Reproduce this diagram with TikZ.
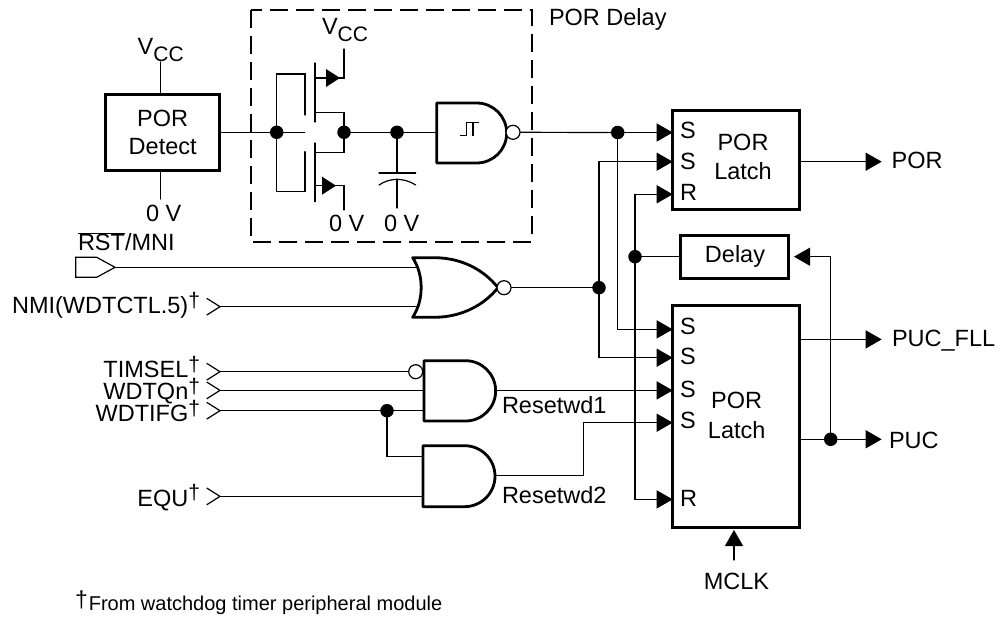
\documentclass[tikz,border=0pt]{standalone}
\usepackage{fontspec}
\setmainfont{Liberation Sans}
\usetikzlibrary{arrows.meta}
\newcommand{\fsz}{\fontsize{23.5}{24}\selectfont}
\newcommand{\dg}{\raisebox{6pt}{\fontsize{21}{21}\selectfont †}}
\newcommand{\ccsub}{\raisebox{-6.5pt}{\fontsize{21}{21}\selectfont CC}}
\tikzset{
  wire/.style={line width=1.2pt,line cap=round,line join=miter},
  arr/.style={wire,-{Triangle[length=16pt,width=18pt]}},
  gate/.style={line width=2.8pt,line join=round,fill=white},
  blockbox/.style={draw,line width=3pt,fill=white,inner sep=0pt,outer sep=0pt,align=center},
  lbl/.style={inner sep=0pt,outer sep=0pt,font=\fsz},
  lw/.style={lbl,anchor=base west},
  le/.style={lbl,anchor=base east},
  lc/.style={lbl,anchor=base},
  jdot/.style={circle,fill=black,inner sep=0pt,minimum size=13.5pt},
  bubble/.style={circle,draw,line width=1.2pt,fill=white,inner sep=0pt,minimum size=14pt},
  chev/.style={line width=1.2pt,line join=miter},
}
\newcommand{\chevron}[1]{\draw[chev] ([shift={(-13.3,-8.4)}]#1) -- (#1) -- ([shift={(-13.3,8.4)}]#1);}
\begin{document}
\begin{tikzpicture}[x=1pt,y=-1pt]
\useasboundingbox[fill=white] (0,0) rectangle (999,617);

% blocks
\node[blockbox,minimum width=113.3pt,minimum height=75.7pt] (detect) at (162.4,132.8) {};
\node[blockbox,minimum width=126.6pt,minimum height=99.3pt] (latchA) at (736,159.7) {};
\node[blockbox,minimum width=108.3pt,minimum height=43.3pt] (delay) at (734.8,256.7) {};
\node[blockbox,minimum width=126.6pt,minimum height=221.7pt] (latchB) at (736,416.8) {};

% dashed frame
\draw[line width=2pt,dash pattern=on 18pt off 8pt] (250.7,10) rectangle (531.7,241.7);

% coordinates
\coordinate (vccA) at (160.7,62);
\coordinate (gndA) at (160.7,199);
\coordinate (gateJ) at (276.7,132.3);
\coordinate (drainJ) at (344,132.3);
\coordinate (capJ) at (397,132.3);
\coordinate (nandIn) at (436.7,132.3);
\coordinate (nandBub) at (513,132.3);
\coordinate (aJ) at (617.7,132.5);
\coordinate (sA1) at (672.7,132.5);
\coordinate (sA2) at (672.7,161.7);
\coordinate (rA) at (672.7,194.3);
\coordinate (corS2) at (599,161.7);
\coordinate (corR) at (635,194.3);
\coordinate (norJ) at (599,287.7);
\coordinate (delJ) at (635,256.7);
\coordinate (sB1) at (672.7,329.4);
\coordinate (sB2) at (672.7,357.7);
\coordinate (sB3) at (672.7,390.4);
\coordinate (sB4) at (672.7,422.7);
\coordinate (rB) at (672.7,499.4);
\coordinate (corB1) at (617.7,329.4);
\coordinate (corB2) at (599,357.7);
\coordinate (corBR) at (635,499.4);
\coordinate (and2Out) at (495,475.3);
\coordinate (k1) at (583.3,475.3);
\coordinate (k2) at (583.3,422.7);
\coordinate (and1Out) at (495.7,390.4);
\coordinate (outPOR) at (881.7,161.7);
\coordinate (outFLL) at (881.7,339.4);
\coordinate (outPUC) at (881.7,439.3);
\coordinate (pucJ) at (830.7,439.3);
\coordinate (corD) at (830.7,256.7);
\coordinate (delIn) at (794,256.7);
\coordinate (mclk) at (734,560);
\coordinate (mclkTip) at (734,530);
\coordinate (padTip) at (115,267.3);
\coordinate (norA) at (417.5,267.3);
\coordinate (nmiTip) at (220,306.7);
\coordinate (norB) at (417.5,306.7);
\coordinate (timTip) at (220,371.7);
\coordinate (qTip) at (220,390.4);
\coordinate (ifgTip) at (220,410.7);
\coordinate (equTip) at (220,496.4);
\coordinate (timB) at (415.7,371.7);
\coordinate (a1b) at (424,390.4);
\coordinate (a1c) at (424,410.7);
\coordinate (ifgJ) at (387,410.7);
\coordinate (cor3) at (387,456.7);
\coordinate (a2a) at (423,456.7);
\coordinate (a2b) at (423,496.4);
\coordinate (norBub) at (504,287.7);

% wires: top
\draw[wire] (vccA) -- (detect.north -| vccA);
\draw[wire] (detect.south -| gndA) -- (gndA);
\draw[wire] (detect.east |- gateJ) -- (gateJ) -- +(28,0);
\draw[wire] (drainJ) -- (capJ) -- (nandIn);
\draw[wire] (nandBub) -- (aJ);

% gate loop and transistors
\draw[wire] (305,115) -- (305,74) -- (276.7,74) -- (276.7,191.7) -- (305,191.7) -- (305,151.7);
\draw[wire] (315,63) -- (315,122);
\draw[wire] (315,143) -- (315,201.7);
\draw[wire] (315,78) -- (344,78) -- (344,49);
\draw[wire] (315,112.7) -- (344,112.7) -- (drainJ) -- (344,152.7) -- (315,152.7);
\draw[wire] (315,185.7) -- (344,185.7) -- (344,210);
\fill (326,69) -- (340,78) -- (326,87) -- cycle;
\fill (322,176.7) -- (336,185.7) -- (322,194.7) -- cycle;

% capacitor
\draw[wire] (capJ) -- (397,173);
\draw[wire] (379,173) -- (415.7,173);
\draw[wire] (379,185) .. controls (390,177.5) and (404,177.5) .. (415.7,185);
\draw[wire] (397,179) -- (397,208);

% NAND
\draw[gate] (436.7,103) -- (476.7,103) arc[start angle=-90,end angle=90,radius=30] -- (436.7,163) -- cycle;
\draw[line width=1.2pt] (459.5,135.7) -- (466.5,135.7) -- (466.5,122.7) -- (478.5,122.7)
  (473,135.7) -- (473,122.7);
\node[bubble] (nb) at (nandBub) {};

% NOR
\draw[wire] (padTip) -- (norA);
\draw[wire] (nmiTip) -- (norB);
\draw[gate] (412.7,257.7) -- (435,257.7) .. controls (462,258) and (484,270) .. (498,287.7)
  .. controls (484,305) and (462,317) .. (435,317.3) -- (412.7,317.3)
  .. controls (424,300) and (424,275) .. cycle;
\node[bubble] (nrb) at (norBub) {};
\draw[wire] (nrb.east) -- (norJ);
\draw[line width=1.2pt,line join=miter] (75.7,257.3) -- (96.7,257.3) -- (padTip) -- (96.7,277.3) -- (75.7,277.3) -- cycle;
\chevron{nmiTip}
\chevron{timTip}
\chevron{qTip}
\chevron{ifgTip}
\chevron{equTip}

% AND gates
\draw[wire] (timTip) -- (timB);
\draw[wire] (qTip) -- (a1b);
\draw[wire] (ifgTip) -- (a1c);
\draw[wire] (ifgJ) -- (cor3) -- (a2a);
\draw[wire] (equTip) -- (a2b);
\draw[gate] (424,360.7) -- (465.5,360.7) arc[start angle=-90,end angle=90,radius=30.15] -- (424,421) -- cycle;
\draw[gate] (423,445.7) -- (464.5,445.7) arc[start angle=-90,end angle=90,radius=30.5] -- (423,506.7) -- cycle;
\node[bubble] (ab) at (timB) {};

% feed to latches
\draw[wire] (corS2) -- (corB2);
\draw[wire] (aJ) -- (corB1);
\draw[wire] (corR) -- (corBR);
\draw[arr] (aJ) -- (sA1);
\draw[arr] (corS2) -- (sA2);
\draw[arr] (corR) -- (rA);
\draw[arr] (corB1) -- (sB1);
\draw[arr] (corB2) -- (sB2);
\draw[arr] (and1Out) -- (sB3);
\draw[arr] (and2Out) -- (k1) -- (k2) -- (sB4);
\draw[arr] (corBR) -- (rB);
\draw[wire] (delJ) -- (delay.west);
\draw[arr] (latchA.east |- outPOR) -- (outPOR);
\draw[arr] (latchB.east |- outFLL) -- (outFLL);
\draw[arr] (latchB.east |- outPUC) -- (outPUC);
\draw[arr] (pucJ) -- (corD) -- (delIn);
\draw[arr] (mclk) -- (mclkTip);

% junctions
\foreach \p/\n in {gateJ/j1,drainJ/j2,capJ/j3,aJ/j4,norJ/j5,delJ/j6,ifgJ/j7,pucJ/j8}
  \node[jdot] (\n) at (\p) {};

% text
\node[lw] (tV1) at (137.7,55) {V\ccsub};
\node[lw] (tV2) at (322,35) {V\ccsub};
\node[lw] (t0a) at (146,221.7) {0 V};
\node[lw] (t0b) at (329,231.7) {0 V};
\node[lw] (t0c) at (384,231.7) {0 V};
\node[lw] (tDel) at (549,26) {POR Delay};
\node[lc] (tD1) at (162.7,126.7) {POR};
\node[lc] (tD2) at (162.7,155) {Detect};
\node[lc] (tA1) at (743,151) {POR};
\node[lc] (tA2) at (743,180) {Latch};
\node[lc] (tDl) at (735,262.7) {Delay};
\node[lc] (tB1) at (736.7,409) {POR};
\node[lc] (tB2) at (736.7,438.3) {Latch};
\node[lw] (sa1) at (680,139) {S};
\node[lw] (sa2) at (680,169.3) {S};
\node[lw] (ra) at (680,200.7) {R};
\node[lw] (sb1) at (680,335) {S};
\node[lw] (sb2) at (680,365) {S};
\node[lw] (sb3) at (680,397.3) {S};
\node[lw] (sb4) at (680,428.3) {S};
\node[lw] (rb) at (680,506.7) {R};
\node[lw] (tPOR) at (891.7,169) {POR};
\node[lw] (tFLL) at (892,346.7) {PUC\_FLL};
\node[lw] (tPUC) at (889,448.7) {PUC};
\node[lc] (tCLK) at (736.5,589.3) {MCLK};
\node[lw] (tR1) at (502,413.3) {Resetwd1};
\node[lw] (tR2) at (502,503.3) {Resetwd2};
\node[lw] (tRST) at (78,250.7) {$\overline{\hbox{\fsz RST}}$/MNI};
\node[le] (tNMI) at (200,313.3) {NMI(WDTCTL.5)\dg};
\node[le] (tTIM) at (200,377.7) {TIMSEL\dg};
\node[le] (tQ) at (200,400) {WDTQn\dg};
\node[le] (tIFG) at (200,421.7) {WDTIFG\dg};
\node[le] (tEQU) at (200,506) {EQU\dg};
\node[lw,font=\fontsize{20}{20}\selectfont] (tFoot) at (75,610) {\raisebox{3pt}{\fontsize{23}{23}\selectfont †}\kern1pt From watchdog timer peripheral module};
\end{tikzpicture}
\end{document}
